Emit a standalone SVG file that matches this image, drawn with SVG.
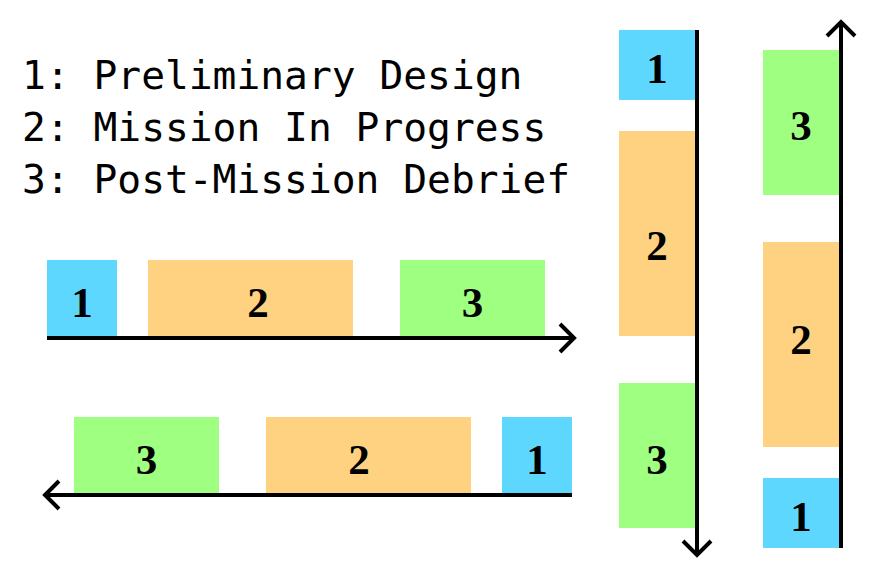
<svg xmlns="http://www.w3.org/2000/svg" width="884" height="585" viewBox="0 0 884 585">
<style>
.b1{fill:#5ED7FF}
.b2{fill:#FED280}
.b3{fill:#9EFF80}
.num{font-size:43px;font-weight:bold;fill:#000;text-anchor:middle}
.leg{font-family:'DejaVu Sans Mono','Liberation Mono',monospace;font-size:39.6px;fill:#000}
.ax{fill:none;stroke:#000;stroke-width:4}
.hd{fill:none;stroke:#000;stroke-width:4;stroke-linecap:butt;stroke-linejoin:miter}
</style>
<rect width="884" height="585" fill="#fff"/>
<g id="legend">
<text class="leg" x="22" y="89">1: Preliminary Design</text>
<text class="leg" x="22" y="141">2: Mission In Progress</text>
<text class="leg" x="22" y="193">3: Post-Mission Debrief</text>
</g>
<g font-family="Liberation Serif, Times New Roman, serif">
<g id="row1-1"><rect class="b1" x="47" y="260" width="70" height="76"/><text class="num" x="82" y="317">1</text></g>
<g id="row1-2"><rect class="b2" x="148" y="260" width="205" height="76"/><text class="num" x="258" y="317">2</text></g>
<g id="row1-3"><rect class="b3" x="400" y="260" width="145" height="76"/><text class="num" x="472.5" y="317">3</text></g>
<g id="row2-3"><rect class="b3" x="74" y="417" width="145" height="76"/><text class="num" x="146.5" y="474">3</text></g>
<g id="row2-2"><rect class="b2" x="266" y="417" width="205" height="76"/><text class="num" x="359" y="474">2</text></g>
<g id="row2-1"><rect class="b1" x="502" y="417" width="70" height="76"/><text class="num" x="537" y="474">1</text></g>
<g id="col1-1"><rect class="b1" x="619" y="30" width="76" height="70"/><text class="num" x="657" y="83">1</text></g>
<g id="col1-2"><rect class="b2" x="619" y="131" width="76" height="205"/><text class="num" x="657" y="260">2</text></g>
<g id="col1-3"><rect class="b3" x="619" y="383" width="76" height="145"/><text class="num" x="657" y="474">3</text></g>
<g id="col2-3"><rect class="b3" x="763" y="50" width="76" height="145"/><text class="num" x="801" y="140">3</text></g>
<g id="col2-2"><rect class="b2" x="763" y="242" width="76" height="205"/><text class="num" x="801" y="354">2</text></g>
<g id="col2-1"><rect class="b1" x="763" y="478" width="76" height="70"/><text class="num" x="801" y="531">1</text></g>
</g>
<g id="connectors">
<line class="ax" x1="47" y1="338" x2="573" y2="338"/>
<polyline class="hd" points="560,324 574,338 560,352"/>
<line class="ax" x1="572" y1="495" x2="47" y2="495"/>
<polyline class="hd" points="59,481 45,495 59,509"/>
<line class="ax" x1="697" y1="30" x2="697" y2="554"/>
<polyline class="hd" points="683,541 697,555 711,541"/>
<line class="ax" x1="841" y1="548" x2="841" y2="23"/>
<polyline class="hd" points="827,36 841,22 855,36"/>
</g>
</svg>
